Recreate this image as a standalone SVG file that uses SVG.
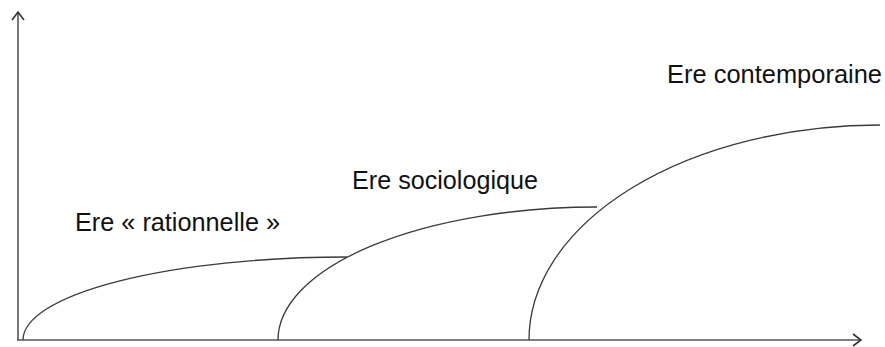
<svg xmlns="http://www.w3.org/2000/svg" width="885" height="347" viewBox="0 0 885 347">
<style>
.ax{stroke:#555;stroke-width:1.6;fill:none}
.cv{stroke:#3a3a3a;stroke-width:1.3;fill:none}
.lb{font-family:"Liberation Sans",Arial,sans-serif;font-size:25px;fill:#111}
</style>
<defs>
<marker id="ah" markerWidth="14" markerHeight="14" refX="10" refY="7" orient="auto" markerUnits="userSpaceOnUse">
<path d="M2,1 L10,7 L2,13" fill="none" stroke="#333" stroke-width="1.6"/>
</marker>
</defs>
<rect width="885" height="347" fill="#fff"/>
<g id="connectors">
<path class="ax" d="M18,340 L18,12" marker-end="url(#ah)"/>
<path class="ax" d="M17,340 L861,340" marker-end="url(#ah)"/>
</g>
<g id="ere-rationnelle">
<path class="cv" d="M23,340 A324,83 0 0 1 347,257"/>
<text class="lb" x="75" y="231" textLength="205" lengthAdjust="spacingAndGlyphs">Ere « rationnelle »</text>
</g>
<g id="ere-sociologique">
<path class="cv" d="M278,340 A319,133 0 0 1 597,207"/>
<text class="lb" x="352" y="189" textLength="186" lengthAdjust="spacingAndGlyphs">Ere sociologique</text>
</g>
<g id="ere-contemporaine">
<path class="cv" d="M529,340 A351,215 0 0 1 880,125"/>
<text class="lb" x="667" y="83" textLength="215" lengthAdjust="spacingAndGlyphs">Ere contemporaine</text>
</g>
</svg>
